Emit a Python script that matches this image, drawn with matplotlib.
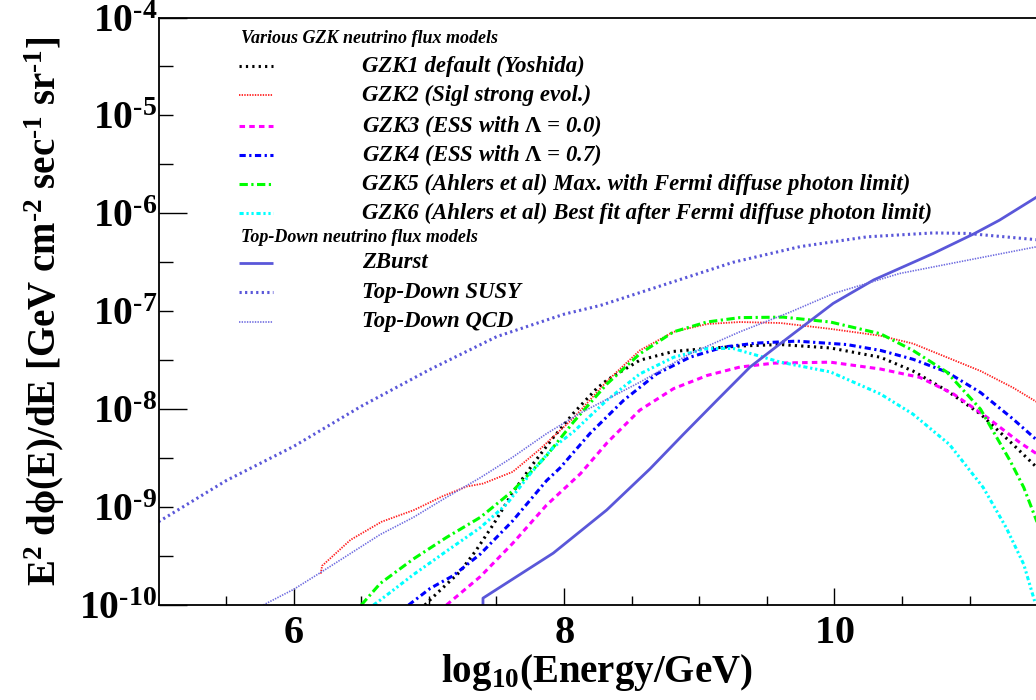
import matplotlib
matplotlib.use("Agg")
import matplotlib.pyplot as plt
import numpy as np
from matplotlib.ticker import FixedLocator, FuncFormatter
from matplotlib.lines import Line2D

plt.rcParams['font.family'] = ['Liberation Serif', 'DejaVu Serif']
plt.rcParams['font.weight'] = 'bold'
plt.rcParams['mathtext.fontset'] = 'custom'
plt.rcParams['mathtext.rm'] = 'Liberation Serif:bold'
plt.rcParams['mathtext.bf'] = 'Liberation Serif:bold'
plt.rcParams['mathtext.it'] = 'Liberation Serif:bold:italic'
plt.rcParams['lines.scale_dashes'] = False

# ---------------- data (log10 E [GeV], log10 flux) ----------------
gzk1_x = [6.97, 7.06, 7.23, 7.35, 7.48, 7.62, 7.77, 7.92, 8.07, 8.24, 8.32, 8.56, 8.81, 9.06, 9.30, 9.60, 9.97, 10.34, 10.58, 10.83, 11.08, 11.32, 11.50]
gzk1_y = [-10.0, -9.88, -9.66, -9.44, -9.17, -8.85, -8.56, -8.29, -8.04, -7.79, -7.70, -7.50, -7.41, -7.38, -7.355, -7.34, -7.375, -7.47, -7.61, -7.81, -8.05, -8.36, -8.60]

gzk2_x = [6.20, 6.21, 6.42, 6.65, 6.89, 7.10, 7.28, 7.40, 7.62, 7.82, 8.07, 8.32, 8.56, 8.81, 9.06, 9.30, 9.60, 9.97, 10.34, 10.58, 10.83, 11.08, 11.32, 11.50]
gzk2_y = [-9.68, -9.60, -9.335, -9.15, -9.03, -8.89, -8.79, -8.76, -8.64, -8.41, -8.09, -7.71, -7.40, -7.21, -7.13, -7.11, -7.12, -7.18, -7.25, -7.33, -7.47, -7.61, -7.78, -7.93]

gzk3_x = [7.13, 7.38, 7.62, 7.87, 8.12, 8.32, 8.56, 8.81, 9.06, 9.30, 9.55, 9.97, 10.34, 10.63, 10.88, 11.13, 11.37, 11.50]
gzk3_y = [-10.0, -9.71, -9.37, -8.98, -8.66, -8.34, -8.01, -7.79, -7.655, -7.57, -7.53, -7.52, -7.59, -7.675, -7.845, -8.085, -8.34, -8.46]

gzk4_x = [6.85, 7.01, 7.18, 7.38, 7.62, 7.87, 7.97, 8.19, 8.44, 8.685, 8.93, 9.18, 9.425, 9.72, 10.09, 10.34, 10.58, 10.83, 11.08, 11.32, 11.50]
gzk4_y = [-10.0, -9.83, -9.70, -9.48, -9.14, -8.73, -8.60, -8.25, -7.91, -7.64, -7.47, -7.365, -7.325, -7.305, -7.34, -7.40, -7.49, -7.62, -7.83, -8.10, -8.32]

gzk5_x = [6.50, 6.64, 6.885, 7.13, 7.38, 7.62, 7.87, 8.07, 8.315, 8.56, 8.81, 9.055, 9.30, 9.62, 9.97, 10.34, 10.58, 10.83, 11.08, 11.30, 11.40, 11.50]
gzk5_y = [-10.0, -9.78, -9.53, -9.31, -9.105, -8.835, -8.475, -8.13, -7.745, -7.435, -7.21, -7.11, -7.065, -7.06, -7.11, -7.23, -7.40, -7.62, -8.00, -8.53, -8.80, -9.16]

gzk6_x = [6.59, 6.64, 6.885, 7.13, 7.38, 7.575, 7.75, 7.92, 8.07, 8.315, 8.56, 8.81, 9.055, 9.25, 9.425, 9.60, 9.97, 10.34, 10.58, 10.85, 11.10, 11.27, 11.40, 11.48]
gzk6_y = [-10.0, -9.95, -9.69, -9.45, -9.21, -8.97, -8.66, -8.39, -8.23, -7.91, -7.64, -7.47, -7.38, -7.38, -7.45, -7.52, -7.62, -7.845, -8.05, -8.36, -8.80, -9.21, -9.585, -9.96]

zburst_x = [7.40, 7.40, 7.92, 8.315, 8.635, 8.88, 9.13, 9.375, 9.60, 9.99, 10.29, 10.73, 11.03, 11.22, 11.50]
zburst_y = [-10.0, -9.93, -9.47, -9.03, -8.61, -8.26, -7.91, -7.57, -7.33, -6.92, -6.68, -6.41, -6.21, -6.07, -5.83]

susy_x = [5.0, 5.5, 6.0, 6.5, 7.0, 7.5, 8.0, 8.27, 8.76, 9.25, 9.745, 10.24, 10.73, 10.98, 11.50]
susy_y = [-9.15, -8.73, -8.38, -7.97, -7.60, -7.26, -7.03, -6.94, -6.72, -6.50, -6.34, -6.24, -6.20, -6.205, -6.27]

qcd_x = [5.775, 6.0, 6.22, 6.64, 6.885, 7.13, 7.38, 7.62, 7.87, 8.12, 8.56, 8.93, 9.30, 9.67, 9.99, 10.48, 10.98, 11.50]
qcd_y = [-10.0, -9.84, -9.65, -9.28, -9.105, -8.90, -8.70, -8.49, -8.25, -8.04, -7.725, -7.435, -7.21, -7.01, -6.82, -6.615, -6.48, -6.34]

gzk_labels = ["GZK1 default (Yoshida)",
              "GZK2 (Sigl strong evol.)",
              r"GZK3 (ESS with $\mathrm{\Lambda}$ = 0.0)",
              r"GZK4 (ESS with $\mathrm{\Lambda}$ = 0.7)",
              "GZK5 (Ahlers et al) Max. with Fermi diffuse photon limit)",
              "GZK6 (Ahlers et al) Best fit after Fermi diffuse photon limit)"]
td_labels = ["ZBurst", "Top-Down SUSY", "Top-Down QCD"]
header_gzk = "Various GZK neutrino flux models"
header_td = "Top-Down neutrino flux models"

x_ticks = [6, 8, 10]
y_decades = [-10, -9, -8, -7, -6, -5, -4]

# ---------------- styles ----------------
TD = '#5a57d9'
styles = [
    dict(color='black', lw=2.2, dashes=(1.6, 3.0)),
    dict(color='#ff2020', lw=1.3, dashes=(1.0, 0.9)),
    dict(color='#ff00ff', lw=2.2, dashes=(4.0, 3.0)),
    dict(color='#0000ff', lw=2.2, dashes=(4.5, 2.5, 1.6, 2.5)),
    dict(color='#00ff00', lw=2.2, dashes=(6.0, 2.5, 1.6, 2.5)),
    dict(color='#00ffff', lw=2.2, dashes=(3.0, 2.0, 1.6, 2.0, 1.6, 2.0)),
]
td_styles = [
    dict(color=TD, lw=2.0, dashes=None),
    dict(color=TD, lw=2.2, dashes=(1.6, 2.4)),
    dict(color='#6e6be0', lw=1.2, dashes=(1.0, 0.9)),
]

W, H = 1036, 700
fig = plt.figure(figsize=(W / 100, H / 100), dpi=100)
L, R, T, B = 158.5, 1036.0, 17.5, 605.0
ax = fig.add_axes([L / W, 1 - B / H, (R - L) / W, (B - T) / H])
ppu = 135.2
ax.set_xlim(5.0, 5.0 + (R - L) / ppu)
ax.set_ylim(1e-10, 1e-4)
ax.set_yscale('log')

series = [(gzk1_x, gzk1_y), (gzk2_x, gzk2_y), (gzk3_x, gzk3_y),
          (gzk4_x, gzk4_y), (gzk5_x, gzk5_y), (gzk6_x, gzk6_y)]
td_series = [(zburst_x, zburst_y), (susy_x, susy_y), (qcd_x, qcd_y)]

def draw(xs, ys, st):
    ln, = ax.plot(xs, 10.0 ** np.array(ys), color=st['color'], lw=st['lw'],
                  solid_capstyle='butt', dash_capstyle='butt', solid_joinstyle='round',
                  clip_on=True)
    if st['dashes'] is not None:
        ln.set_dashes(st['dashes'])
    return ln

for (xs, ys), st in zip(series, styles):
    draw(xs, ys, st)
for (xs, ys), st in zip(td_series, td_styles):
    draw(xs, ys, st)

# ---------------- axes cosmetics ----------------
for s in ['top', 'left', 'bottom']:
    ax.spines[s].set_linewidth(1.3)
ax.spines['right'].set_visible(False)

ax.xaxis.set_major_locator(FixedLocator(x_ticks))
ax.xaxis.set_minor_locator(FixedLocator(np.arange(5.5, 12.0, 0.5)))
ax.xaxis.set_major_formatter(FuncFormatter(lambda v, p: r"$\mathbf{%d}$" % round(v)))
ax.tick_params(axis='x', which='major', direction='in', length=12, width=1.0,
               labelsize=29, pad=7, top=False)
ax.tick_params(axis='x', which='minor', direction='in', length=6.5, width=1.0, top=False)

ymaj = [10.0 ** d for d in y_decades if d % 2 == 0]
ymin_ = [10.0 ** (d / 2.0) for d in range(-20, -7) if d % 4 != 0]
ax.yaxis.set_major_locator(FixedLocator(ymaj))
ax.yaxis.set_minor_locator(FixedLocator(ymin_))

def yfmt(v, p):
    e = np.log10(v)
    if abs(e - round(e)) < 1e-6:
        return r"$\mathbf{10^{\text{-}%d}}$" % abs(round(e))
    return ""

ax.yaxis.set_major_formatter(FuncFormatter(yfmt))
ax.yaxis.set_minor_formatter(FuncFormatter(yfmt))
ax.tick_params(axis='y', which='major', direction='in', length=20, width=1.0,
               labelsize=28.5, pad=1, right=False)
ax.tick_params(axis='y', which='minor', direction='in', length=10, width=1.0,
               labelsize=28.5, pad=1, right=False)

ax.set_xlabel(r"$\mathbf{log_{10}(Energy/GeV)}$", fontsize=28, labelpad=0)
ax.set_ylabel("E$^{2}$ d\u03d5(E)/dE [GeV cm$^{\\text{-}2}$ sec$^{\\text{-}1}$ sr$^{\\text{-}1}$]",
              fontsize=28, fontweight='bold', labelpad=9)

# ---------------- legend (manual, ROOT TLegend style) ----------------
def px(xp):
    return (xp - L) / (R - L)

def py(yp):
    return (B - yp) / (B - T)

line_x0, line_x1, text_x = 239.3, 273.3, 362.3
gzk_rows = [66.0, 95.3, 126.0, 155.0, 184.0, 213.3]
td_rows = [263.0, 292.3, 321.7]
leg_font = dict(fontsize=16.4, fontweight='bold', fontstyle='italic', va='center', ha='left')
hdr_font = dict(fontsize=13, fontweight='bold', fontstyle='italic', va='center', ha='left')

ax.text(px(240.7), py(38.3), header_gzk, transform=ax.transAxes, **hdr_font)
ax.text(px(240.7), py(237.3), header_td, transform=ax.transAxes, **hdr_font)

for yrow, lab, st in list(zip(gzk_rows, gzk_labels, styles)) + list(zip(td_rows, td_labels, td_styles)):
    ln = Line2D([px(line_x0), px(line_x1)], [py(yrow), py(yrow)], transform=ax.transAxes,
                color=st['color'], lw=st['lw'], solid_capstyle='butt', dash_capstyle='butt')
    if st['dashes'] is not None:
        ln.set_dashes(st['dashes'])
    ax.add_line(ln)
    ax.text(px(text_x), py(yrow), lab, transform=ax.transAxes, **leg_font)

fig.savefig("out.png", dpi=100)
